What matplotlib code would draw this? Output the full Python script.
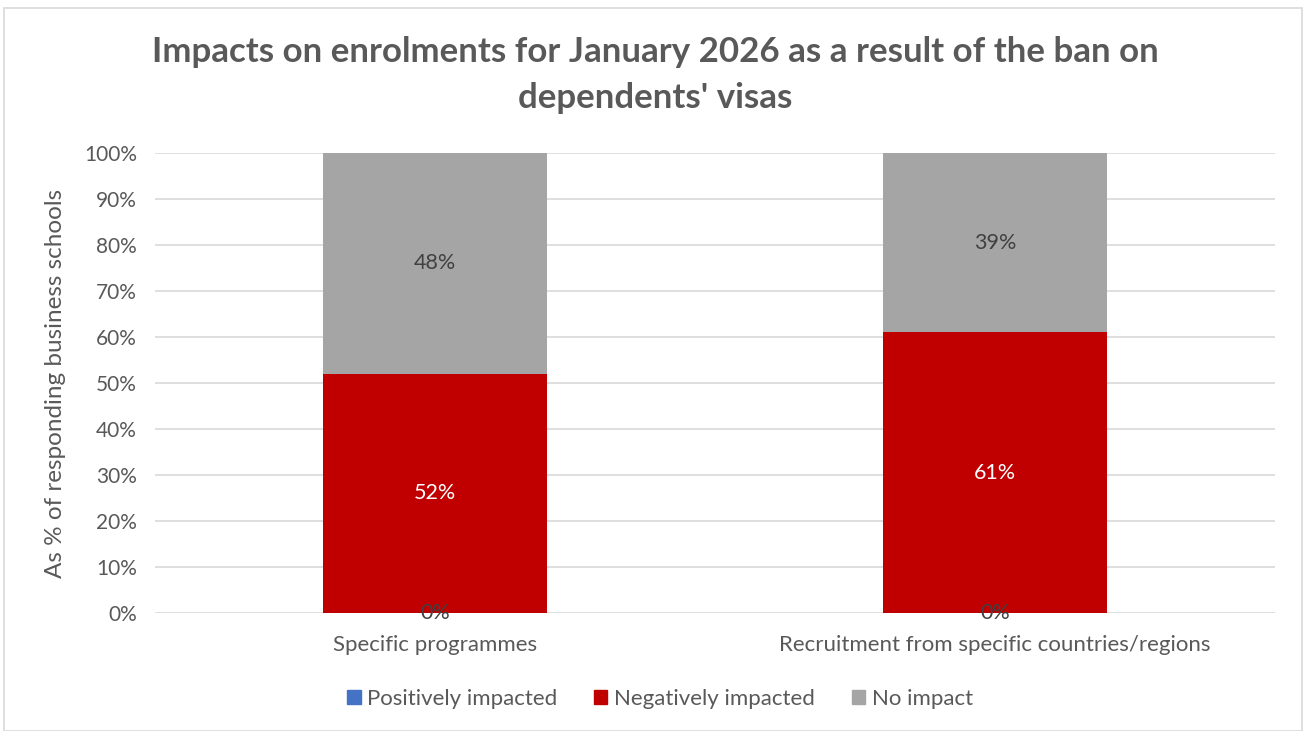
import matplotlib
matplotlib.use("Agg")
import matplotlib.pyplot as plt
from matplotlib.patches import Rectangle
import numpy as np

categories = ["Specific programmes", "Recruitment from specific countries/regions"]
series_names = ["Positively impacted", "Negatively impacted", "No impact"]
positively = [0, 0]
negatively = [52, 61]
no_impact = [48, 39]
yticks = [0, 10, 20, 30, 40, 50, 60, 70, 80, 90, 100]

colors = ["#4472c4", "#c00000", "#a5a5a5"]
label_colors = ["#404040", "#ffffff", "#404040"]
text_gray = "#595959"

plt.rcParams["font.family"] = ["Lato", "DejaVu Sans"]

W, H = 1307, 731
fig = plt.figure(figsize=(W / 100, H / 100), dpi=100)
fig.patch.set_facecolor("white")

# chart border
fig.add_artist(Rectangle((4 / W, 0), (1302 - 4) / W, 1 - 8 / H, transform=fig.transFigure,
                         fill=False, edgecolor="#d9d9d9", linewidth=1.2))

left, right = 155 / W, 1275 / W
bottom, top = 1 - 613 / H, 1 - 153 / H
ax = fig.add_axes([left, bottom, right - left, top - bottom])

x = np.arange(len(categories))
width = 0.4
data = [positively, negatively, no_impact]
base = np.zeros(len(categories))
for vals, col, lc in zip(data, colors, label_colors):
    vals = np.array(vals, dtype=float)
    ax.bar(x, vals, width, bottom=base, color=col, zorder=3)
    for xi, b, v in zip(x, base, vals):
        ax.text(xi, b + v / 2, f"{v:.0f}%", ha="center", va="center",
                color=lc, fontsize=15.5, zorder=4)
    base += vals

ax.set_xlim(-0.5, len(categories) - 0.5)
ax.set_ylim(0, 100)
ax.set_yticks(yticks)
ax.set_yticklabels([f"{t}%" for t in yticks], fontsize=15, color=text_gray)
ax.set_xticks(x)
ax.set_xticklabels(categories, fontsize=16, color=text_gray)
ax.tick_params(axis="both", length=0)
ax.tick_params(axis="y", pad=13)
ax.tick_params(axis="x", pad=16)
ax.yaxis.grid(True, color="#d9d9d9", linewidth=1.2, zorder=0)
for s in ax.spines.values():
    s.set_visible(False)

ax.set_ylabel("As % of responding business schools", fontsize=17.5, color=text_gray)
ax.yaxis.set_label_coords((66 - 155) / 1120, 0.5)

title_x = 0.5 * (153 + 1158) / W
fig.text(title_x, 1 - 52 / H, "Impacts on enrolments for January 2026 as a result of the ban on",
         ha="center", va="center", fontsize=25.1, fontweight="bold", color=text_gray)
fig.text(title_x, 1 - 98 / H, "dependents' visas",
         ha="center", va="center", fontsize=25.1, fontweight="bold", color=text_gray)

handles = [Rectangle((0, 0), 1, 1, color=c) for c in colors]
fig.legend(handles, series_names, loc="center", bbox_to_anchor=(660 / W, 1 - 699 / H),
           ncol=3, frameon=False, fontsize=16, labelcolor=text_gray,
           handlelength=0.6, handleheight=0.6, handletextpad=0.3, columnspacing=1.65)

fig.savefig("out.png", dpi=100, facecolor="white")
